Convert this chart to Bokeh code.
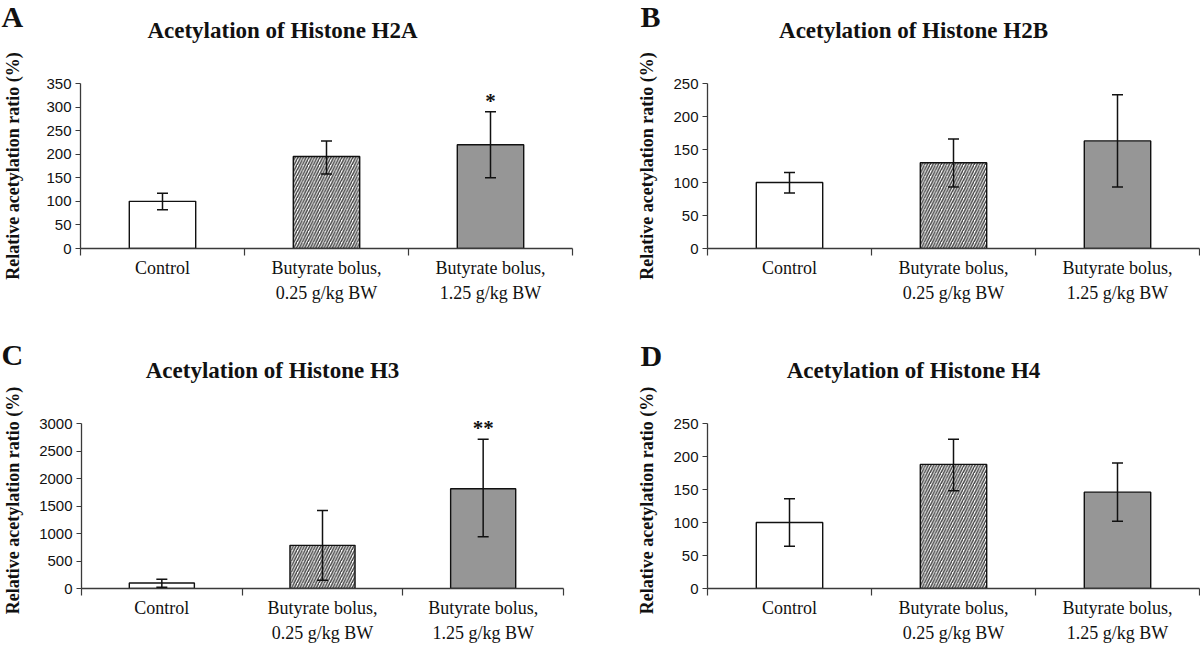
from bokeh.plotting import figure
from bokeh.layouts import column, row
from bokeh.models import ColumnDataSource, Whisker, TeeHead, FixedTicker, Label, Range1d
from bokeh.embed import file_html
from bokeh.resources import INLINE
from bokeh.core.properties import value

# ---------------- data ----------------
categories = ["Control", "Butyrate bolus,\n0.25 g/kg BW", "Butyrate bolus,\n1.25 g/kg BW"]
cat_x = [0.5, 1.5, 2.5]
cat_bounds = [0, 1, 2, 3]

h2a_mean = [100, 195, 220]
h2a_lower = [82, 158, 150]
h2a_upper = [117, 228, 290]
h2a_marks = ["", "", "*"]
h2a_ticks = [0, 50, 100, 150, 200, 250, 300, 350]

h2b_mean = [100, 130, 163]
h2b_lower = [84, 93, 93]
h2b_upper = [115, 166, 233]
h2b_marks = ["", "", ""]
h2b_ticks = [0, 50, 100, 150, 200, 250]

h3_mean = [100, 785, 1815]
h3_lower = [25, 150, 940]
h3_upper = [170, 1420, 2715]
h3_marks = ["", "", "**"]
h3_ticks = [0, 500, 1000, 1500, 2000, 2500, 3000]

h4_mean = [100, 188, 146]
h4_lower = [64, 148, 102]
h4_upper = [136, 226, 190]
h4_marks = ["", "", ""]
h4_ticks = [0, 50, 100, 150, 200, 250]

titles = ["Acetylation of Histone H2A", "Acetylation of Histone H2B",
          "Acetylation of Histone H3", "Acetylation of Histone H4"]
letters = ["A", "B", "C", "D"]
ylabel = "Relative acetylation ratio (%)"

# ---------------- styles ----------------
SERIF = "Liberation Serif"
SANS = "Liberation Sans"
INK = "#111111"
AXIS_COLOR = "#3a3a3a"
bar_fill = ["white", "white", "#969696"]
bar_hatch = [" ", "/", " "]

TICK_SPAN = 165        # px between zero and the top tick
BOTTOM_BORDER = 57


def chart(mean, lower, upper, marks, yticks, left, frame_w, label_standoff,
          top_border, extra_top, height):
    top = yticks[-1]
    frame_h = TICK_SPAN + extra_top
    p = figure(width=600, height=height, title=None,
               x_range=Range1d(0, 3), y_range=Range1d(0, top * frame_h / TICK_SPAN),
               output_backend="svg", toolbar_location=None, tools="",
               min_border_left=left, min_border_right=600 - left - frame_w,
               min_border_top=top_border, min_border_bottom=BOTTOM_BORDER)
    p.outline_line_color = None
    p.grid.visible = False
    p.background_fill_color = "white"
    p.border_fill_color = "white"

    src = ColumnDataSource(dict(x=cat_x, mean=mean, lower=lower, upper=upper,
                                marks=marks, fill=bar_fill, hatch=bar_hatch))
    p.vbar(x="x", top="mean", bottom=0, width=0.405, source=src,
           fill_color="fill", hatch_pattern="hatch", hatch_color="#444444",
           hatch_scale=5.5, hatch_weight=1.5, line_color=INK, line_width=1.4)

    wh = Whisker(source=src, base="x", upper="upper", lower="lower",
                 line_color=INK, line_width=1.5, level="overlay",
                 upper_head=TeeHead(size=11, line_color=INK, line_width=1.5),
                 lower_head=TeeHead(size=11, line_color=INK, line_width=1.5))
    p.add_layout(wh)

    p.text(x="x", y="upper", text="marks", source=src,
           text_font=value(SERIF), text_font_style="bold", text_font_size="21px",
           text_align="center", text_baseline="alphabetic", y_offset=-11,
           text_color=INK)

    xa = p.xaxis[0]
    xa.ticker = FixedTicker(ticks=cat_x, minor_ticks=cat_bounds)
    xa.major_label_overrides = {cx: c for cx, c in zip(cat_x, categories)}
    xa.major_tick_out = 0
    xa.major_tick_in = 0
    xa.minor_tick_out = 7
    xa.minor_tick_in = 0
    xa.minor_tick_line_color = AXIS_COLOR
    xa.minor_tick_line_width = 1.2
    xa.axis_line_color = AXIS_COLOR
    xa.axis_line_width = 1.3
    xa.major_label_text_font = SERIF
    xa.major_label_text_font_size = "18px"
    xa.major_label_text_color = INK
    xa.major_label_text_line_height = 1.25
    xa.major_label_standoff = 2

    ya = p.yaxis[0]
    ya.ticker = FixedTicker(ticks=yticks)
    ya.bounds = (0, top)
    ya.major_tick_out = 5
    ya.major_tick_in = 0
    ya.minor_tick_out = 0
    ya.minor_tick_in = 0
    ya.major_tick_line_color = AXIS_COLOR
    ya.major_tick_line_width = 1.2
    ya.axis_line_color = AXIS_COLOR
    ya.axis_line_width = 1.3
    ya.major_label_text_font = SANS
    ya.major_label_text_font_size = "15px"
    ya.major_label_text_color = INK
    ya.major_label_standoff = 4
    ya.axis_label = ylabel
    ya.axis_label_text_font = SERIF
    ya.axis_label_text_font_style = "bold"
    ya.axis_label_text_font_size = "18px"
    ya.axis_label_text_color = INK
    ya.axis_label_standoff = label_standoff
    return p


def strip(height, items):
    # items: (text, x, y, size, align) in pixel coordinates of the strip
    s = figure(width=1200, height=height, title=None, x_range=Range1d(0, 1200),
               y_range=Range1d(height, 0), output_backend="svg",
               toolbar_location=None, tools="", x_axis_location=None,
               y_axis_location=None, min_border=0)
    s.outline_line_color = None
    s.grid.visible = False
    s.background_fill_color = "white"
    s.border_fill_color = "white"
    for text, x, y, size, align in items:
        s.add_layout(Label(x=x, y=y, text=text, text_font=SERIF,
                           text_font_style="bold", text_font_size=size,
                           text_align=align, text_baseline="alphabetic",
                           text_color=INK))
    return s


strip_top = strip(44, [(letters[0], 1, 16, "30px", "left"),
                       (titles[0], 282, 29.5, "23px", "center"),
                       (letters[1], 640, 16, "30px", "left"),
                       (titles[1], 913, 29.5, "23px", "center")])
strip_bottom = strip(80, [(letters[2], 1, 49, "30px", "left"),
                          (titles[2], 272, 64.5, "23px", "center"),
                          (letters[3], 640, 50, "30px", "left"),
                          (titles[3], 913, 64.5, "23px", "center")])

# top row charts: page y 44..305, zero line at 248
pA = chart(h2a_mean, h2a_lower, h2a_upper, h2a_marks, h2a_ticks, 78, 494, 20, 39, 0, 261)
pB = chart(h2b_mean, h2b_lower, h2b_upper, h2b_marks, h2b_ticks, 107, 492, 13, 39, 0, 261)
# bottom row charts: page y 385..645, zero line at 588 (frames aligned within the row)
pC = chart(h3_mean, h3_lower, h3_upper, h3_marks, h3_ticks, 77, 486, 13, 27, 11, 260)
pD = chart(h4_mean, h4_lower, h4_upper, h4_marks, h4_ticks, 107, 492, 13, 27, 11, 260)

layout = column(strip_top, row(pA, pB), strip_bottom, row(pC, pD))
open("out.html", "w").write(file_html(layout, INLINE))
